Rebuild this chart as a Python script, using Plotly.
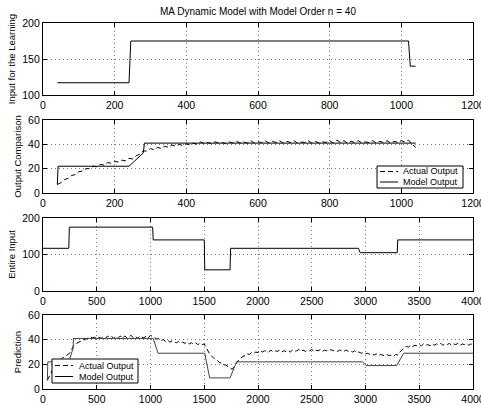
import plotly.graph_objects as go
from plotly.subplots import make_subplots

# ---- data ---------------------------------------------------------------
# learning input (step signal used for identification)
learn_in_x = [40, 240, 245, 1020, 1025, 1040]
learn_in_y = [117, 117, 175, 175, 140, 140]

# learning phase: measured output sampled every 10 steps, 40..1040
learn_act_x = list(range(40, 1041, 10))
learn_act_y = [
    7.0, 8.5, 11.0, 12.0, 14.5, 15.0, 17.5, 18.0, 20.0, 20.0,
    22.0, 21.5, 23.5, 23.0, 25.0, 24.5, 26.0, 25.5, 27.0, 26.5,
    28.5, 28.0, 30.5, 32.0, 34.5, 34.5, 36.5, 35.5, 37.5, 36.5,
    38.5, 37.5, 39.5, 38.5, 40.0, 39.0, 40.5, 39.5, 41.0, 40.0,
    42.0, 40.5, 41.5, 40.5, 42.0, 41.0, 41.5, 40.5, 42.0, 41.0,
    42.5, 41.0, 42.0, 41.0, 43.0, 41.0, 42.0, 41.5, 43.0, 41.0,
    42.5, 41.5, 43.0, 41.0, 42.5, 41.5, 43.0, 41.0, 42.0, 41.5,
    43.0, 41.0, 42.5, 41.0, 42.0, 41.5, 43.0, 41.0, 43.5, 41.5,
    43.0, 41.0, 42.5, 41.5, 43.0, 41.0, 42.0, 41.5, 43.0, 41.0,
    42.5, 41.5, 43.0, 41.0, 42.5, 41.5, 43.0, 42.0, 43.5, 40.0,
    37.5,
]
# learning phase: MA model output
learn_mod_x = [40, 42, 240, 280, 283, 1040]
learn_mod_y = [7, 22, 22, 33, 41, 41]

# full input sequence
full_in_x = [0, 240, 245, 1020, 1025, 1500, 1505, 1740, 1745,
             2935, 2950, 3295, 3300, 4000]
full_in_y = [117, 117, 175, 175, 140, 140, 58, 58, 117,
             117, 105, 105, 140, 140]

# prediction phase: measured output sampled every 20 steps, 40..4000
pred_act_x = list(range(40, 4001, 20))
pred_act_y = [
    7.0, 11.0, 14.5, 17.5, 20.0, 22.0, 23.5, 25.0, 26.0, 27.0,
    28.5, 30.5, 34.5, 36.5, 37.5, 38.5, 39.5, 40.0, 40.5, 41.0,
    42.0, 41.5, 42.0, 41.5, 42.0, 41.0, 42.5, 41.0, 43.0, 42.0,
    42.5, 41.0, 42.5, 41.5, 43.0, 41.0, 43.0, 41.5, 42.5, 43.5,
    41.5, 42.5, 41.0, 43.0, 42.0, 41.5, 43.0, 41.5, 43.5, 42.5,
    42.0, 40.5, 41.0, 39.5, 40.0, 38.5, 39.5, 38.0, 39.0, 38.5,
    37.5, 38.5, 37.0, 38.0, 37.0, 38.0, 36.5, 37.5, 36.5, 37.5,
    36.0, 37.0, 36.0, 36.5, 33.0, 30.0, 27.5, 26.0, 24.0, 23.5,
    21.5, 21.0, 19.5, 19.5, 18.0, 17.0, 16.0, 19.0, 21.0, 23.5,
    25.0, 26.5, 27.0, 28.5, 28.0, 29.5, 29.0, 30.0, 29.5, 31.0,
    30.0, 31.0, 30.5, 30.0, 31.5, 30.0, 31.0, 30.5, 31.5, 30.0,
    31.0, 30.5, 31.5, 30.0, 31.5, 30.5, 31.0, 32.0, 30.5, 31.5,
    30.5, 31.5, 31.0, 32.0, 30.5, 31.5, 31.0, 32.0, 30.5, 31.5,
    31.0, 30.5, 32.0, 31.0, 31.5, 30.5, 31.5, 31.0, 30.5, 31.5,
    30.5, 31.0, 30.0, 31.0, 29.5, 30.0, 29.0, 29.5, 28.5, 29.0,
    28.0, 28.5, 27.5, 28.5, 27.0, 28.0, 27.5, 27.0, 28.0, 27.0,
    27.5, 26.5, 28.0, 27.5, 30.0, 32.0, 33.5, 34.5, 34.0, 35.5,
    34.5, 35.5, 35.0, 36.0, 35.0, 36.5, 35.5, 36.0, 35.0, 36.5,
    35.5, 36.5, 36.0, 37.0, 35.5, 36.5, 36.0, 37.0, 35.5, 36.5,
    36.0, 37.0, 35.5, 36.5, 36.0, 37.0, 35.5, 36.5, 36.0,
]
# prediction phase: MA model output
pred_mod_x = [40, 45, 240, 280, 283, 1025, 1070, 1505, 1550, 1740, 1800,
              2975, 3005, 3290, 3355, 4000]
pred_mod_y = [7, 22, 22, 33, 41, 41, 29, 29, 9, 9, 22,
              22, 19, 19, 29, 29]

title_text = "MA Dynamic Model with Model Order n = 40"
y_titles = ["Input for the Learning", "Output Comparison",
            "Entire Input", "Prediction"]
legend_labels = ["Actual Output", "Model Output"]

# ---- figure -------------------------------------------------------------
FONT = "Liberation Sans, Arial, sans-serif"
W, H = 481, 405
DASH = "5px,3px"

fig = make_subplots(rows=4, cols=1)

solid = dict(color="black", width=1)
dashed = dict(color="black", width=1, dash=DASH)

fig.add_trace(go.Scatter(x=learn_in_x, y=learn_in_y, mode="lines",
                         line=solid, showlegend=False), row=1, col=1)
fig.add_trace(go.Scatter(x=learn_act_x, y=learn_act_y, mode="lines",
                         line=dashed, name=legend_labels[0],
                         showlegend=False), row=2, col=1)
fig.add_trace(go.Scatter(x=learn_mod_x, y=learn_mod_y, mode="lines",
                         line=solid, name=legend_labels[1],
                         showlegend=False), row=2, col=1)
fig.add_trace(go.Scatter(x=full_in_x, y=full_in_y, mode="lines",
                         line=solid, showlegend=False), row=3, col=1)
fig.add_trace(go.Scatter(x=pred_act_x, y=pred_act_y, mode="lines",
                         line=dashed, name=legend_labels[0],
                         showlegend=False), row=4, col=1)
fig.add_trace(go.Scatter(x=pred_mod_x, y=pred_mod_y, mode="lines",
                         line=dict(color="#444", width=1),
                         name=legend_labels[1], showlegend=False),
              row=4, col=1)


def px_x(p):
    return p / W


def px_y(p):
    return 1 - p / H


x_dom = [px_x(43), px_x(473)]
panels = [
    # (top px, bottom px, x range, x ticks, y range, y ticks)
    (23, 95, [0, 1200], list(range(0, 1201, 200)), [100, 200], [100, 150, 200]),
    (120, 193, [0, 1200], list(range(0, 1201, 200)), [0, 60], [0, 20, 40, 60]),
    (218, 291, [0, 4000], list(range(0, 4001, 500)), [0, 200], [0, 100, 200]),
    (315, 389, [0, 4000], list(range(0, 4001, 500)), [0, 60], [0, 20, 40, 60]),
]

axis_common = dict(
    showline=True, linecolor="black", linewidth=1.2, mirror="allticks",
    ticks="inside", ticklen=4, tickcolor="black", tickwidth=1,
    showgrid=True, gridcolor="#777", griddash="1px,3px", gridwidth=1,
    zeroline=False, automargin=False, ticklabeloverflow="allow",
    tickfont=dict(family=FONT, size=10.5, color="black"),
)

for i, (top, bot, xr, xt, yr, yt) in enumerate(panels, start=1):
    sfx = "" if i == 1 else str(i)
    fig.layout["xaxis" + sfx].update(
        domain=x_dom, range=xr, tickvals=xt, **axis_common)
    fig.layout["yaxis" + sfx].update(
        domain=[px_y(bot), px_y(top)], range=yr, tickvals=yt,
        title=dict(text=y_titles[i - 1], standoff=4,
                   font=dict(family=FONT, size=9.5, color="black")),
        **axis_common)

# compact MATLAB-style legend boxes drawn in paper coordinates
shapes, annotations = [], []


def add_legend(left, top, right, bottom, row_y, line_x0, line_x1, text_x):
    shapes.append(dict(type="rect", xref="paper", yref="paper",
                       x0=px_x(left), x1=px_x(right),
                       y0=px_y(bottom), y1=px_y(top),
                       line=dict(color="black", width=1),
                       fillcolor="white", layer="above"))
    for k, (label, dash) in enumerate(zip(legend_labels, [DASH, "solid"])):
        shapes.append(dict(type="line", xref="paper", yref="paper",
                           x0=px_x(line_x0), x1=px_x(line_x1),
                           y0=px_y(row_y[k]), y1=px_y(row_y[k]),
                           line=dict(color="black", width=1, dash=dash),
                           layer="above"))
        annotations.append(dict(text=label, xref="paper", yref="paper",
                                x=px_x(text_x), y=px_y(row_y[k]),
                                xanchor="left", yanchor="middle",
                                showarrow=False,
                                font=dict(family=FONT, size=9,
                                          color="black")))


add_legend(377, 166, 463, 188, [171.5, 182], 380, 398, 401)
add_legend(52, 359, 138, 383, [365.5, 376.5], 55, 73, 77)

fig.update_layout(
    width=W, height=H,
    margin=dict(l=0, r=0, t=0, b=0),
    paper_bgcolor="white", plot_bgcolor="white",
    showlegend=False,
    title=dict(text=title_text, x=258 / W, xanchor="center",
               y=px_y(11), yanchor="middle",
               font=dict(family=FONT, size=10, color="black")),
    shapes=shapes,
    annotations=annotations,
)

fig.write_html("out.html")
